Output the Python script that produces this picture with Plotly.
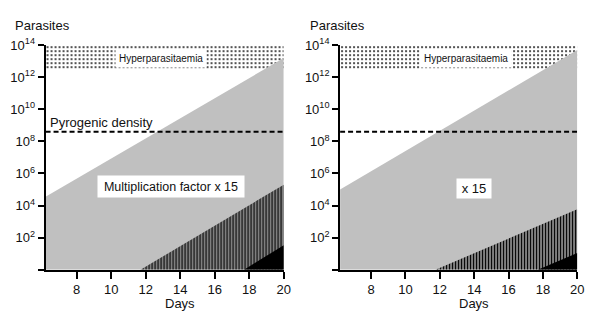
import plotly.graph_objects as go

# ---------------- data ----------------
day_range = [6.2, 20]
x_ticks = [8, 10, 12, 14, 16, 18, 20]
y_tick_exp = [0, 2, 4, 6, 8, 10, 12, 14]
y_tick_text = ["" if e == 0 else "10<sup>%d</sup>" % e for e in y_tick_exp]

hyper_days = [6.2, 20]
hyper_band = [3.0e12, 1e14]
pyro_days = [6.2, 20]
pyrogenic = [4.0e8, 4.0e8]

# left panel: multiplication factor x 15
left_total_days = [6.2, 20]
left_total = [3.5e4, 1.6e13]
left_hatch_days = [11.7, 20]
left_hatch = [1, 2.0e5]
left_black_days = [17.7, 20]
left_black = [1, 34]

# right panel: x 15
right_total_days = [6.2, 20]
right_total = [1.0e5, 5.0e13]
right_hatch_days = [11.75, 20]
right_hatch = [1, 5.9e3]
right_black_days = [17.7, 20]
right_black = [1, 11]

GRAY = "#c0c0c0"
FONT = "Liberation Sans, Arial, sans-serif"

W, H = 600, 322
OFF = 8  # page body margin


def px_x(x):
    return (x - OFF) / W


def px_y(y):
    return 1 - (y - OFF) / H


fig = go.Figure()


def poly(days, vals):
    xs = [days[0], days[0], days[1], days[1]]
    ys = [1, vals[0], vals[1], 1]
    return xs, ys


def add_panel(xa, ya, total_d, total, hatch_d, hatch, black_d, black):
    xs = [hyper_days[0], hyper_days[0], hyper_days[1], hyper_days[1]]
    ys = [hyper_band[0], hyper_band[1], hyper_band[1], hyper_band[0]]
    fig.add_trace(go.Scatter(x=xs, y=ys, fill="toself", mode="lines", line=dict(width=0),
                             fillcolor="white",
                             fillpattern=dict(shape=".", fgcolor="black", bgcolor="white",
                                              size=4, solidity=0.16, fillmode="replace"),
                             xaxis=xa, yaxis=ya, showlegend=False, hoverinfo="skip"))
    xs, ys = poly(total_d, total)
    fig.add_trace(go.Scatter(x=xs, y=ys, fill="toself", mode="lines", line=dict(width=0),
                             fillcolor=GRAY, xaxis=xa, yaxis=ya, showlegend=False,
                             hoverinfo="skip"))
    xs, ys = poly(hatch_d, hatch)
    fig.add_trace(go.Scatter(x=xs, y=ys, fill="toself", mode="lines", line=dict(width=0),
                             fillcolor="white",
                             fillpattern=dict(shape="|", fgcolor="black", bgcolor="white",
                                              size=3, solidity=0.67, fillmode="replace"),
                             xaxis=xa, yaxis=ya, showlegend=False, hoverinfo="skip"))
    xs, ys = poly(black_d, black)
    fig.add_trace(go.Scatter(x=xs, y=ys, fill="toself", mode="lines", line=dict(width=0),
                             fillcolor="black", xaxis=xa, yaxis=ya, showlegend=False,
                             hoverinfo="skip"))
    fig.add_trace(go.Scatter(x=pyro_days, y=pyrogenic, mode="lines",
                             line=dict(color="black", width=1.8, dash="5px,3px"),
                             xaxis=xa, yaxis=ya, showlegend=False, hoverinfo="skip"))


add_panel("x", "y", left_total_days, left_total, left_hatch_days, left_hatch,
          left_black_days, left_black)
add_panel("x2", "y2", right_total_days, right_total, right_hatch_days, right_hatch,
          right_black_days, right_black)

xcommon = dict(range=day_range, tickvals=x_ticks, showgrid=False, zeroline=False,
               showline=True, linecolor="black", linewidth=2, ticks="outside",
               ticklen=7, tickwidth=2, tickcolor="black",
               tickfont=dict(family=FONT, size=13, color="#111"))
ycommon = dict(type="log", range=[0, 14], tickvals=[10 ** e for e in y_tick_exp],
               ticktext=y_tick_text, showgrid=False, zeroline=False, showline=True,
               linecolor="black", linewidth=2, ticks="outside", ticklen=6, tickwidth=2,
               tickcolor="black", tickfont=dict(family=FONT, size=13, color="#111"))

fig.update_layout(
    width=W, height=H, margin=dict(l=0, r=0, t=0, b=0),
    plot_bgcolor="white", paper_bgcolor="white",
    font=dict(family=FONT, color="#111"),
    xaxis=dict(domain=[px_x(46), px_x(287)], anchor="y", **xcommon),
    yaxis=dict(domain=[px_y(268), px_y(37)], anchor="x", **ycommon),
    xaxis2=dict(domain=[px_x(344), px_x(584)], anchor="y2", **xcommon),
    yaxis2=dict(domain=[px_y(268), px_y(37)], anchor="x2", **ycommon),
)

ann = []
for px in (13, 312):
    ann.append(dict(text="Parasites", xref="paper", yref="paper", x=px_x(px), y=px_y(17),
                    xanchor="left", yanchor="middle", showarrow=False,
                    font=dict(family=FONT, size=13)))
for xr in ("x", "x2"):
    ann.append(dict(text="Days", xref=xr, yref="paper", x=14, y=px_y(303),
                    xanchor="center", yanchor="middle", showarrow=False,
                    font=dict(family=FONT, size=13)))
ann.append(dict(text="Hyperparasitaemia", xref="x", yref="y", x=12.9, y=13.15,
                showarrow=False, bgcolor="white", borderpad=3,
                font=dict(family=FONT, size=10)))
ann.append(dict(text="Hyperparasitaemia", xref="x2", yref="y2", x=13.5, y=13.2,
                showarrow=False, bgcolor="white", borderpad=3,
                font=dict(family=FONT, size=10)))
ann.append(dict(text="Pyrogenic density", xref="x", yref="y", x=9.44, y=9.15,
                showarrow=False, font=dict(family=FONT, size=13)))
ann.append(dict(text="Multiplication factor x 15", xref="x", yref="y", x=13.46, y=5.18,
                showarrow=False, bgcolor="white", borderpad=1, width=144, height=19,
                font=dict(family=FONT, size=12.5)))
ann.append(dict(text="x 15", xref="x2", yref="y2", x=14.02, y=5.06,
                showarrow=False, bgcolor="white", borderpad=1, width=32, height=17,
                font=dict(family=FONT, size=13)))
fig.update_layout(annotations=ann)

fig.write_html("out.html")
